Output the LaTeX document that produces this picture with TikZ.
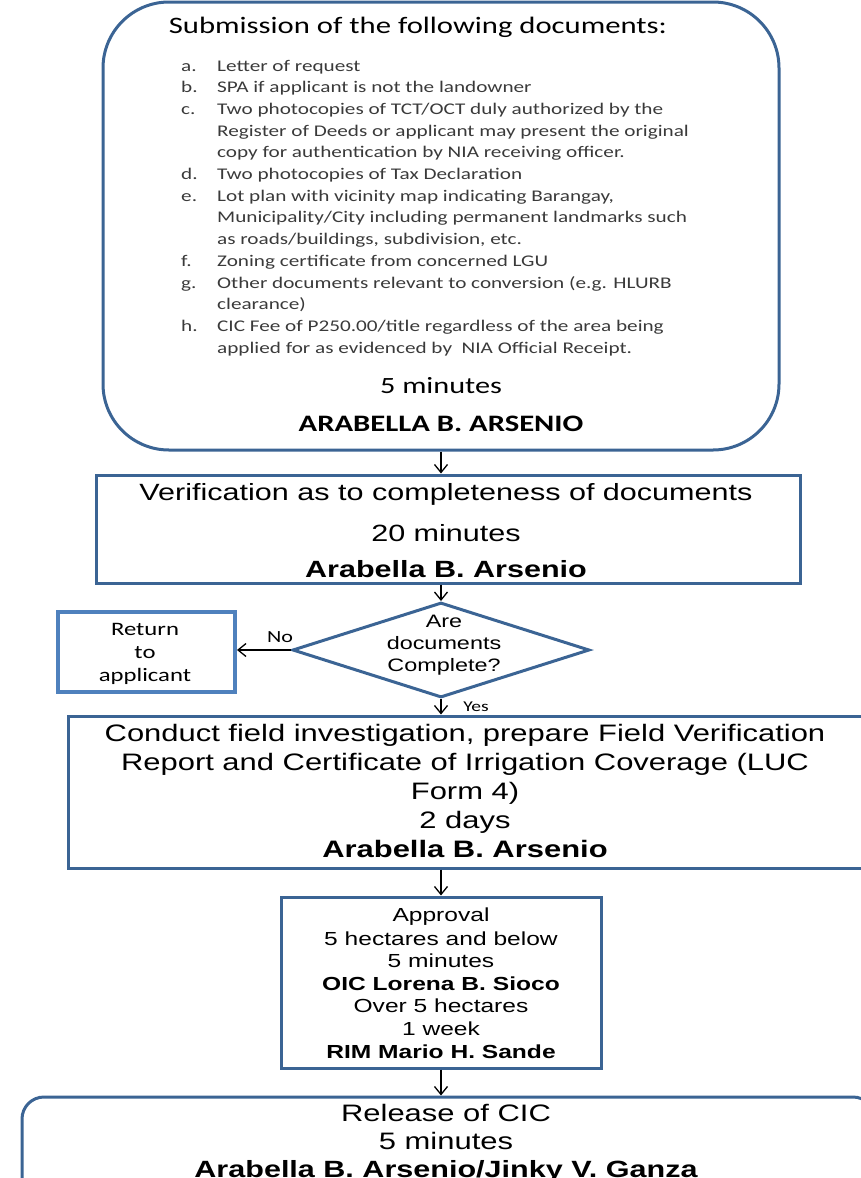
\documentclass[tikz,border=0pt]{standalone}
\usepackage{fontspec}
\setmainfont{Liberation Sans}
\newfontfamily\calfont[FakeStretch=1.3]{Carlito}
\newfontfamily\arfont[FakeStretch=1.3]{Liberation Sans}
\usetikzlibrary{shapes.geometric,arrows.meta}
\definecolor{bord}{HTML}{3B6494}
\definecolor{bordlight}{HTML}{4F81BD}
\definecolor{itemc}{HTML}{3A3A3A}
\newcommand\fsz[1]{\fontsize{#1}{#1}\selectfont}
\tikzset{
  boxline/.style={draw=bord, line width=3pt, inner sep=0pt},
  arr/.style={-{Straight Barb[length=8pt,width=13pt]}, line width=1.3pt, black},
  txt/.style={anchor=base, inner sep=0pt},
  item/.style={anchor=base west, inner sep=0pt, text=itemc, font=\calfont\fsz{16.3}},
}
\begin{document}
\begin{tikzpicture}[x=1pt,y=-1pt]
\useasboundingbox (0,0) rectangle (861,1178);
\clip (0,0) rectangle (861,1178);
% boxes
\node[boxline, rectangle, rounded corners=66pt, minimum width=676pt, minimum height=448pt] (top) at (441,226) {};
\node[boxline, rectangle, minimum width=704pt, minimum height=108pt] (ver) at (448,529) {};
\node[boxline, diamond, minimum width=297pt, minimum height=95pt] (dia) at (441,650) {};
\node[draw=bordlight, line width=4pt, rectangle, inner sep=0pt, minimum width=177pt, minimum height=80pt] (ret) at (146.5,652) {};
\node[boxline, rectangle, minimum width=807pt, minimum height=152pt] (field) at (471.5,792) {};
\node[boxline, rectangle, minimum width=320pt, minimum height=171pt] (app) at (441,982.5) {};
\node[boxline, rectangle, rounded corners=22pt, minimum width=853pt, minimum height=113pt] (rel) at (448.5,1153.5) {};
% connectors
\draw[arr] (top.south) -- (top.south |- ver.north);
\draw[arr] (ver.south -| dia.north) -- (dia.north);
\draw[arr] (dia.west) -- (dia.west -| ret.east);
\draw[arr] (dia.south) -- (dia.south |- field.north);
\draw[arr] (field.south -| app.north) -- (app.north);
\draw[arr] (app.south) -- (app.south |- rel.north);
% top box text
\node[txt, font=\calfont\fsz{23.6}] (ttitle) at (418,33) {Submission of the following documents:};
\node[item] (la) at (181,71) {a.};   \node[item] (ia) at (217,71) {Letter of request};
\node[item] (lb) at (181,92.7) {b.}; \node[item] (ib) at (217,92.7) {SPA if applicant is not the landowner};
\node[item] (lc) at (181,114.4) {c.}; \node[item] (ic1) at (217,114.4) {Two photocopies of TCT/OCT duly authorized by the};
\node[item] (ic2) at (217,136.1) {Register of Deeds or applicant may present the original};
\node[item] (ic3) at (217,157.8) {copy for authentication by NIA receiving officer.};
\node[item] (ld) at (181,179.5) {d.}; \node[item] (id) at (217,179.5) {Two photocopies of Tax Declaration};
\node[item] (le) at (181,201.2) {e.}; \node[item] (ie1) at (217,201.2) {Lot plan with vicinity map indicating Barangay,};
\node[item] (ie2) at (217,222.9) {Municipality/City including permanent landmarks such};
\node[item] (ie3) at (217,244.6) {as roads/buildings, subdivision, etc.};
\node[item] (lf) at (181,266.3) {f.}; \node[item] (if) at (217,266.3) {Zoning certificate from concerned LGU};
\node[item] (lg) at (181,288) {g.}; \node[item] (ig1) at (217,288) {Other documents relevant to conversion (e.g. HLURB};
\node[item] (ig2) at (217,309.7) {clearance)};
\node[item] (lh) at (181,331.4) {h.}; \node[item] (ih1) at (217,331.4) {CIC Fee of P250.00/title regardless of the area being};
\node[item] (ih2) at (217,353.1) {applied for as evidenced by\ \ NIA Official Receipt.};
\node[txt, font=\calfont\fsz{23.3}] (ttime) at (441,393) {5 minutes};
\node[txt, font=\calfont\bfseries\fsz{23.6}] (tname) at (441,431.5) {ARABELLA B. ARSENIO};
% verification
\node[txt, font=\arfont\fsz{23.5}] (v1) at (446,500) {Verification as to completeness of documents};
\node[txt, font=\arfont\fsz{23.5}] (v2) at (446,541) {20 minutes};
\node[txt, font=\arfont\bfseries\fsz{23.5}] (v3) at (446,577) {Arabella B. Arsenio};
% diamond
\node[txt, font=\arfont\fsz{18}] (d1) at (444,627) {Are};
\node[txt, font=\arfont\fsz{18}] (d2) at (444,649) {documents};
\node[txt, font=\arfont\fsz{18}] (d3) at (444,671) {Complete?};
% return
\node[txt, font=\calfont\fsz{19}] (r1) at (145,635) {Return};
\node[txt, font=\calfont\fsz{19}] (r2) at (145,658) {to};
\node[txt, font=\calfont\fsz{19}] (r3) at (145,681) {applicant};
\node[txt, font=\calfont\fsz{17}] (lno) at (280,642) {No};
\node[txt, font=\calfont\fsz{15}] (lyes) at (476,711) {Yes};
% field
\node[txt, font=\arfont\fsz{23.8}] (f1) at (465,741) {Conduct field investigation, prepare Field Verification};
\node[txt, font=\arfont\fsz{23.8}] (f2) at (465,770) {Report and Certificate of Irrigation Coverage (LUC};
\node[txt, font=\arfont\fsz{23.8}] (f3) at (465,799) {Form 4)};
\node[txt, font=\arfont\fsz{23.8}] (f4) at (465,828) {2 days};
\node[txt, font=\arfont\bfseries\fsz{23.8}] (f5) at (465,857) {Arabella B. Arsenio};
% approval
\node[txt, font=\arfont\fsz{18.9}] (a1) at (441,921) {Approval};
\node[txt, font=\arfont\fsz{18.9}] (a2) at (441,945) {5 hectares and below};
\node[txt, font=\arfont\fsz{18.9}] (a3) at (441,967) {5 minutes};
\node[txt, font=\arfont\bfseries\fsz{18.9}] (a4) at (441,990) {OIC Lorena B. Sioco};
\node[txt, font=\arfont\fsz{18.9}] (a5) at (441,1012) {Over 5 hectares};
\node[txt, font=\arfont\fsz{18.9}] (a6) at (441,1035) {1 week};
\node[txt, font=\arfont\bfseries\fsz{18.9}] (a7) at (441,1058) {RIM Mario H. Sande};
% release
\node[txt, font=\arfont\fsz{23.8}] (rl1) at (446,1121) {Release of CIC};
\node[txt, font=\arfont\fsz{23.8}] (rl2) at (446,1149) {5 minutes};
\node[txt, font=\arfont\bfseries\fsz{23.5}] (rl3) at (446,1177) {Arabella B. Arsenio/Jinky V. Ganza};
\end{tikzpicture}
\end{document}
